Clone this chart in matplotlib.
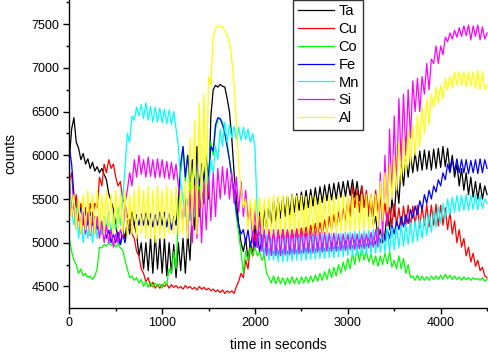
import numpy as np
import matplotlib
matplotlib.use("Agg")
import matplotlib.pyplot as plt
from matplotlib.ticker import MultipleLocator

plt.rcParams['font.family'] = ['Liberation Sans', 'DejaVu Sans']

step_s = 25  # sampling interval of the recorded series (seconds)

ta = [5950, 6300, 6430, 6150, 6080, 5950, 6020, 5900, 5960, 5850, 5920, 5820, 5870, 5800, 5850, 5780, 5720, 5560, 5480, 5380,
      5200, 5050, 4980, 5150, 5050, 5250, 5100, 5350, 5200, 5100, 4850, 5000, 4700, 5000, 4680, 5050, 4650, 5100, 4700, 5050,
      4650, 5050, 4620, 5000, 4650, 4980, 4600, 5000, 4680, 5050, 4650, 5100, 4800, 5400, 5150, 6100, 5300, 5600, 5450, 5850,
      5500, 6450, 6750, 6800, 6780, 6810, 6790, 6780, 6650, 6500, 6200, 5800, 5500, 5200, 5000, 4900, 5050, 4800, 5000, 4850,
      5200, 4950, 5350, 5050, 5400, 5150, 5450, 5200, 5480, 5250, 5500, 5280, 5520, 5300, 5530, 5320, 5550, 5350, 5560, 5370,
      5580, 5380, 5600, 5400, 5610, 5420, 5630, 5440, 5640, 5460, 5660, 5480, 5670, 5490, 5680, 5500, 5690, 5520, 5700, 5530,
      5710, 5540, 5720, 5520, 5700, 5480, 5650, 5420, 5550, 5300, 5450, 5200, 5300, 5050, 5150, 5000, 5100, 5350, 5150, 5500,
      5300, 5700, 5450, 5900, 5650, 5950, 5750, 6000, 5800, 6030, 5820, 6050, 5830, 6060, 5840, 6050, 5830, 6070, 5850, 6080,
      5860, 6100, 5870, 6080, 5820, 6000, 5750, 5900, 5650, 5850, 5600, 5800, 5550, 5750, 5520, 5700, 5500, 5680, 5500, 5650,
      5550]

cu = [5700, 5800, 5400, 5550, 5250, 5450, 5200, 5400, 5250, 5450, 5300, 5450, 5400, 5750, 5650, 5900, 5800, 5950, 5850, 5900,
      5750, 5650, 5700, 5500, 5450, 5300, 5250, 5100, 5050, 4900, 4850, 4700, 4650, 4550, 4600, 4500, 4550, 4480, 4520, 4480,
      4520, 4500, 4530, 4480, 4520, 4490, 4510, 4480, 4500, 4470, 4510, 4480, 4500, 4470, 4490, 4460, 4500, 4470, 4490, 4460,
      4480, 4450, 4470, 4440, 4460, 4430, 4460, 4420, 4450, 4430, 4450, 4420, 4500, 4560, 4650, 4600, 4800, 4700, 4950, 4850,
      5100, 4950, 5120, 4980, 5100, 4970, 5120, 4990, 5100, 4980, 5130, 5000, 5150, 5010, 5140, 5000, 5150, 5020, 5160, 5030,
      5170, 5040, 5180, 5050, 5200, 5060, 5220, 5080, 5230, 5100, 5260, 5120, 5300, 5150, 5320, 5170, 5350, 5200, 5400, 5250,
      5500, 5300, 5650, 5400, 5600, 5350, 5650, 5400, 5600, 5350, 5550, 5300, 5600, 5350, 5500, 5250, 5450, 5200, 5400, 5200,
      5450, 5200, 5400, 5180, 5420, 5200, 5430, 5180, 5420, 5200, 5430, 5170, 5420, 5200, 5440, 5180, 5430, 5200, 5440, 5190,
      5430, 5200, 5400, 5150, 5350, 5100, 5250, 5000, 5150, 4950, 5050, 4850, 4950, 4780, 4880, 4730, 4800, 4680, 4720, 4620,
      4600]

co = [5050, 4900, 4800, 4750, 4650, 4700, 4620, 4650, 4600, 4620, 4580, 4620, 4700, 4950, 4940, 4980, 4960, 5000, 4970, 4990,
      4950, 4990, 4940, 4920, 4800, 4700, 4600, 4620, 4570, 4600, 4540, 4580, 4500, 4560, 4490, 4550, 4490, 4540, 4500, 4530,
      4480, 4550, 4520, 4700, 4650, 4900, 4700, 5300, 5800, 6100, 5700, 6000, 5600, 5900, 5550, 5850, 5600, 5900, 5700, 6000,
      5800, 6150, 6000, 6300, 6400, 6420, 6380, 6250, 6150, 5950, 5750, 5550, 5300, 5100, 4900, 4650, 4900, 4800, 4950, 4850,
      4950, 4850, 4900, 4800, 4850, 4650, 4600, 4540, 4620, 4530, 4610, 4530, 4600, 4520, 4600, 4530, 4610, 4530, 4600, 4530,
      4610, 4540, 4610, 4540, 4620, 4550, 4630, 4560, 4650, 4570, 4670, 4580, 4700, 4600, 4720, 4620, 4750, 4650, 4780, 4680,
      4820, 4700, 4880, 4750, 4950, 4780, 4950, 4800, 4900, 4780, 4870, 4750, 4850, 4730, 4850, 4750, 4880, 4760, 4900, 4720,
      4800, 4700, 4850, 4700, 4820, 4650, 4750, 4600, 4620, 4570, 4630, 4570, 4620, 4570, 4610, 4570, 4620, 4580, 4620, 4580,
      4630, 4580, 4640, 4590, 4630, 4580, 4620, 4580, 4610, 4570, 4610, 4580, 4600, 4570, 4600, 4580, 4590, 4570, 4600, 4560,
      4580]

fe = [6100, 5900, 5550, 5400, 5300, 5400, 5250, 5350, 5200, 5350, 5200, 5300, 5150, 5250, 5100, 5200, 5050, 5150, 5000, 5100,
      5000, 5120, 4980, 5100, 5000, 5150, 5200, 5300, 5200, 5320, 5200, 5330, 5200, 5340, 5200, 5330, 5180, 5320, 5200, 5350,
      5200, 5350, 5180, 5330, 5150, 5300, 5200, 5500, 5900, 6100, 5750, 6000, 5700, 5950, 5650, 5900, 5650, 5900, 5700, 5950,
      5750, 6100, 6050, 6350, 6430, 6420, 6350, 6250, 6100, 5950, 5750, 5600, 5350, 5200, 5100, 5150, 5000, 5150, 4950, 5100,
      4950, 5100, 4900, 5050, 4850, 5000, 4850, 5000, 4850, 4980, 4850, 4990, 4860, 4980, 4860, 4990, 4870, 4980, 4870, 4990,
      4870, 4990, 4880, 5000, 4880, 4990, 4890, 5000, 4890, 5000, 4900, 5010, 4900, 5010, 4910, 5020, 4910, 5020, 4920, 5030,
      4920, 5030, 4930, 5040, 4930, 5040, 4940, 5050, 4950, 5060, 4960, 5080, 4980, 5100, 5000, 5120, 5020, 5150, 5050, 5200,
      5100, 5250, 5150, 5300, 5180, 5320, 5220, 5380, 5280, 5420, 5320, 5480, 5380, 5550, 5450, 5600, 5500, 5650, 5580, 5720,
      5650, 5800, 5720, 5900, 5800, 5950, 5820, 5960, 5800, 5950, 5800, 5950, 5790, 5940, 5800, 5950, 5790, 5960, 5800, 5950,
      5850]

mn = [5800, 5350, 5200, 5400, 5050, 5300, 5000, 5250, 5050, 5300, 5000, 5280, 5050, 5250, 5100, 5300, 5150, 5350, 5100, 5300,
      5150, 5400, 5200, 5500, 5850, 6250, 6150, 6450, 6400, 6550, 6450, 6580, 6420, 6600, 6400, 6560, 6380, 6550, 6380, 6540,
      6370, 6530, 6360, 6520, 6350, 6500, 6300, 6100, 5700, 5500, 5300, 5500, 5250, 5450, 5300, 5550, 5400, 5700, 5550, 5850,
      5600, 5950, 5800, 6100, 5950, 6300, 6100, 6380, 6150, 6350, 6200, 6330, 6180, 6320, 6170, 6320, 6180, 6300, 6150, 6250,
      6100, 5300, 5000, 5200, 4850, 5100, 4800, 5050, 4800, 5050, 4780, 5050, 4780, 5060, 4790, 5060, 4790, 5070, 4800, 5070,
      4800, 5080, 4800, 5080, 4810, 5090, 4810, 5090, 4820, 5100, 4820, 5100, 4830, 5100, 4830, 5110, 4840, 5110, 4840, 5120,
      4850, 5120, 4850, 5130, 4860, 5130, 4860, 5140, 4870, 5140, 4870, 5150, 4880, 5150, 4890, 5150, 4890, 5160, 4900, 5170,
      4920, 5180, 4940, 5200, 4960, 5210, 4980, 5230, 5000, 5250, 5020, 5270, 5050, 5300, 5080, 5330, 5120, 5370, 5180, 5420,
      5220, 5450, 5280, 5500, 5320, 5520, 5350, 5540, 5360, 5540, 5370, 5550, 5370, 5540, 5380, 5550, 5380, 5540, 5390, 5500,
      5450]

si = [5700, 5300, 5450, 5150, 5400, 5100, 5350, 5100, 5350, 5080, 5300, 5100, 5300, 5050, 5250, 5000, 5200, 5000, 5150, 4950,
      5100, 5000, 5150, 5050, 5450, 5600, 5800, 5650, 5950, 5750, 6000, 5780, 5950, 5750, 5980, 5760, 5950, 5740, 5960, 5750,
      5950, 5740, 5930, 5730, 5920, 5720, 5900, 5650, 5500, 5200, 5550, 5050, 5600, 5000, 5650, 5050, 5600, 5000, 5700, 5150,
      5750, 5250, 5800, 5300, 5850, 5500, 5870, 5550, 5850, 5500, 5800, 5450, 5750, 5350, 5700, 5300, 5600, 5250, 5450, 5000,
      5400, 4950, 5300, 4900, 5150, 4850, 5150, 4850, 5150, 4850, 5150, 4850, 5150, 4860, 5150, 4860, 5140, 4870, 5150, 4870,
      5140, 4880, 5140, 4880, 5130, 4880, 5130, 4890, 5120, 4890, 5120, 4900, 5110, 4900, 5110, 4900, 5100, 4910, 5100, 4910,
      5100, 4920, 5100, 4920, 5100, 4930, 5100, 4930, 5100, 4940, 5120, 4950, 5150, 4950, 5800, 5050, 6000, 5200, 6300, 5500,
      6450, 5600, 6650, 5900, 6700, 6000, 6750, 6200, 6850, 6500, 6880, 6500, 6900, 6700, 7050, 6750, 7100, 7050, 7250, 7050,
      7250, 7150, 7350, 7300, 7400, 7330, 7430, 7350, 7460, 7360, 7480, 7370, 7490, 7320, 7480, 7360, 7490, 7320, 7470, 7330,
      7400]

al = [5600, 5300, 5550, 5150, 5500, 5100, 5550, 5150, 5600, 5100, 5550, 5100, 5600, 5150, 5550, 5100, 5600, 5150, 5550, 5100,
      5600, 5150, 5550, 5100, 5600, 5050, 5550, 5100, 5600, 5050, 5650, 5100, 5600, 5050, 5650, 5050, 5600, 5000, 5650, 5050,
      5600, 5050, 5650, 5100, 5600, 5100, 5650, 5100, 5600, 5100, 5700, 5050, 6200, 5200, 6400, 5100, 6600, 5400, 6700, 5500,
      6900, 6800, 7350, 7450, 7480, 7470, 7470, 7420, 7380, 7300, 7100, 6800, 6350, 5900, 5600, 5400, 5500, 5150, 5500, 5150,
      5500, 5150, 5520, 5100, 5500, 5100, 5520, 5080, 5530, 5090, 5540, 5080, 5540, 5100, 5540, 5090, 5550, 5100, 5540, 5100,
      5540, 5100, 5530, 5090, 5540, 5100, 5530, 5100, 5540, 5110, 5530, 5100, 5540, 5110, 5530, 5120, 5540, 5120, 5550, 5130,
      5540, 5130, 5550, 5140, 5540, 5140, 5550, 5150, 5550, 5150, 5560, 5160, 5550, 5180, 5700, 5250, 5800, 5350, 5900, 5500,
      6000, 5600, 6150, 5700, 6200, 5800, 6300, 5900, 6350, 6000, 6450, 6100, 6550, 6250, 6650, 6350, 6700, 6550, 6780, 6600,
      6800, 6650, 6880, 6750, 6900, 6780, 6950, 6800, 6960, 6800, 6950, 6780, 6960, 6790, 6950, 6760, 6970, 6750, 6960, 6750,
      6800]

labels = ["Ta", "Cu", "Co", "Fe", "Mn", "Si", "Al"]
colors = ["#000000", "#FF0000", "#00FF00", "#0000FF", "#00FFFF", "#FF00FF", "#FFFF00"]
series = [ta, cu, co, fe, mn, si, al]

fig = plt.figure(figsize=(4.88, 3.54), dpi=100)
ax = fig.add_axes([69.3 / 488, 46.3 / 354, 1 - 69.3 / 488, 1 - 46.3 / 354])

for vals, lab, col in zip(series, labels, colors):
    t = np.arange(len(vals)) * step_s
    ax.plot(t, vals, color=col, lw=0.9, label=lab)

ax.set_xlim(0, 4510)
ax.set_ylim(4257, 7776)
ax.xaxis.set_major_locator(MultipleLocator(1000))
ax.xaxis.set_minor_locator(MultipleLocator(500))
ax.yaxis.set_major_locator(MultipleLocator(500))
ax.yaxis.set_minor_locator(MultipleLocator(250))
ax.tick_params(which='major', direction='out', length=4, width=1, labelsize=9, pad=3)
ax.tick_params(which='minor', direction='out', length=2.5, width=1)
for s in ['top', 'right']:
    ax.spines[s].set_visible(False)
for s in ['left', 'bottom']:
    ax.spines[s].set_linewidth(1)

ax.set_xlabel("time in seconds", fontsize=10, labelpad=6.5)
ax.set_ylabel("counts", fontsize=10, labelpad=10)

leg = ax.legend(loc='upper left', bbox_to_anchor=(0.535, 1.0), borderaxespad=0,
                fontsize=10.5, handlelength=2.5, labelspacing=0.26, handletextpad=0.3,
                borderpad=0.3, frameon=True, fancybox=False)
leg.get_frame().set_edgecolor('black')
leg.get_frame().set_linewidth(1)

fig.savefig("out.png", dpi=100)
